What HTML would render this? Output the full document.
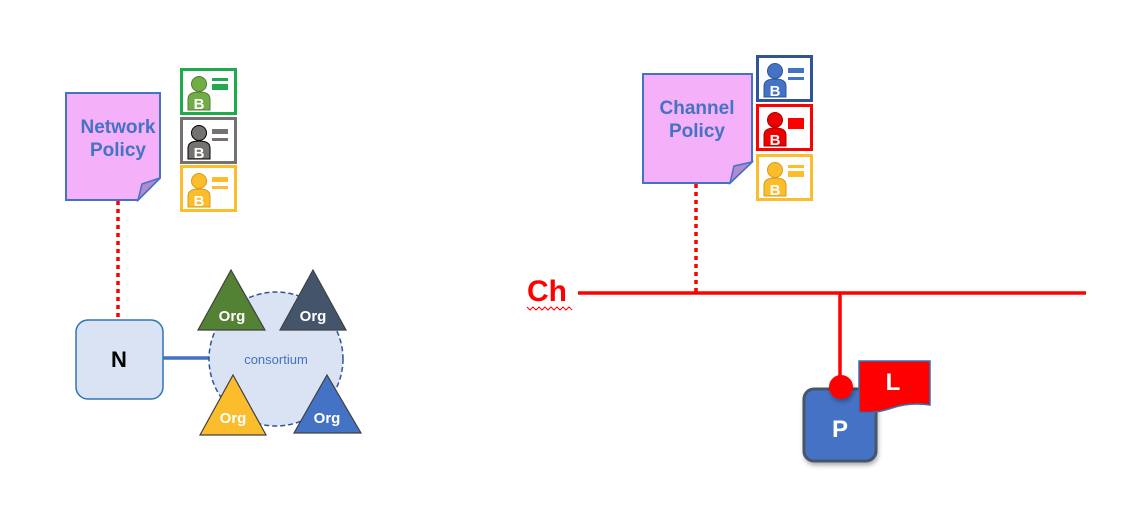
<!DOCTYPE html>
<html><head><meta charset="utf-8"><style>
html,body{margin:0;padding:0;background:#fff;}
svg{display:block;}
text{font-family:"Liberation Sans",Arial,sans-serif;}
</style></head><body>
<svg width="1140" height="512" viewBox="0 0 1140 512" xmlns="http://www.w3.org/2000/svg">
<defs>
<filter id="sh" x="-20%" y="-20%" width="150%" height="150%"><feDropShadow dx="1" dy="3" stdDeviation="2" flood-color="#000" flood-opacity="0.3"/></filter>
</defs>

<line x1="118" y1="201" x2="118" y2="318" stroke="#f00" stroke-width="3.5" stroke-dasharray="4,4"/>
<line x1="696" y1="184" x2="696" y2="293" stroke="#f00" stroke-width="3.5" stroke-dasharray="4,4"/>

<path d="M66,93 H160 V178 L138,200 H66 Z" fill="#f4b0f8" stroke="#4472c4" stroke-width="2"/>
<path d="M138,200 L142,184 L160,178 Z" fill="#b28ad0" stroke="#4472c4" stroke-width="1.5"/>
<text x="118" y="133" font-size="19" font-weight="bold" fill="#4472c4" text-anchor="middle">Network</text>
<text x="118" y="156" font-size="19" font-weight="bold" fill="#4472c4" text-anchor="middle">Policy</text>

<path d="M643,74 H752 V162 L730,183 H643 Z" fill="#f4b0f8" stroke="#4472c4" stroke-width="2"/>
<path d="M730,183 L734,166 L752,162 Z" fill="#b28ad0" stroke="#4472c4" stroke-width="1.5"/>
<text x="697" y="114" font-size="19" font-weight="bold" fill="#4472c4" text-anchor="middle">Channel</text>
<text x="697" y="137" font-size="19" font-weight="bold" fill="#4472c4" text-anchor="middle">Policy</text>

<g transform="translate(180,68)">
 <rect x="1.5" y="1.5" width="54" height="44" fill="#fff" stroke="#1fab4d" stroke-width="3"/>
 <circle cx="19" cy="16" r="7.5" fill="#70ad47" stroke="#507e32"/>
 <path d="M8,42 V31 Q8,24 19,24 Q30,24 30,31 V42 Z" fill="#70ad47" stroke="#507e32"/>
 <text x="19" y="41" font-size="15" font-weight="bold" fill="#fff" text-anchor="middle">B</text>
 <rect x="32" y="10" width="16" height="3" fill="#1fab4d"/><rect x="32" y="16" width="16" height="6" fill="#1fab4d"/>
</g>
<g transform="translate(180,117)">
 <rect x="1.5" y="1.5" width="54" height="44" fill="#fff" stroke="#767171" stroke-width="3"/>
 <circle cx="19" cy="16" r="7.5" fill="#767171" stroke="#000"/>
 <path d="M8,42 V31 Q8,24 19,24 Q30,24 30,31 V42 Z" fill="#767171" stroke="#000"/>
 <text x="19" y="41" font-size="15" font-weight="bold" fill="#fff" text-anchor="middle">B</text>
 <rect x="32" y="12" width="16" height="5" fill="#767171"/><rect x="32" y="21" width="16" height="3" fill="#767171"/>
</g>
<g transform="translate(180,165)">
 <rect x="1.5" y="1.5" width="54" height="44" fill="#fff" stroke="#fbbd2c" stroke-width="3"/>
 <circle cx="19" cy="16" r="7.5" fill="#fbbd2c" stroke="#d69a1a"/>
 <path d="M8,42 V31 Q8,24 19,24 Q30,24 30,31 V42 Z" fill="#fbbd2c" stroke="#d69a1a"/>
 <text x="19" y="41" font-size="15" font-weight="bold" fill="#fff" text-anchor="middle">B</text>
 <rect x="32" y="12" width="16" height="5" fill="#fbbd2c"/><rect x="32" y="21" width="16" height="3" fill="#fbbd2c"/>
</g>

<g transform="translate(756,55)">
 <rect x="1.5" y="1.5" width="54" height="44" fill="#fff" stroke="#2f5597" stroke-width="3"/>
 <circle cx="19" cy="16" r="7.5" fill="#4472c4" stroke="#2f5597"/>
 <path d="M8,42 V31 Q8,24 19,24 Q30,24 30,31 V42 Z" fill="#4472c4" stroke="#2f5597"/>
 <text x="19" y="41" font-size="15" font-weight="bold" fill="#fff" text-anchor="middle">B</text>
 <rect x="32" y="13" width="16" height="5" fill="#4472c4"/><rect x="32" y="22" width="16" height="3" fill="#4472c4"/>
</g>
<g transform="translate(756,104)">
 <rect x="1.5" y="1.5" width="54" height="44" fill="#fff" stroke="#f00" stroke-width="3"/>
 <circle cx="19" cy="16" r="7.5" fill="#e00" stroke="#a00"/>
 <path d="M8,42 V31 Q8,24 19,24 Q30,24 30,31 V42 Z" fill="#e00" stroke="#a00"/>
 <text x="19" y="41" font-size="15" font-weight="bold" fill="#fff" text-anchor="middle">B</text>
 <rect x="32" y="14" width="16" height="11" fill="#f00"/>
</g>
<g transform="translate(756,154)">
 <rect x="1.5" y="1.5" width="54" height="44" fill="#fff" stroke="#fbbd2c" stroke-width="3"/>
 <circle cx="19" cy="16" r="7.5" fill="#fbbd2c" stroke="#d69a1a"/>
 <path d="M8,42 V31 Q8,24 19,24 Q30,24 30,31 V42 Z" fill="#fbbd2c" stroke="#d69a1a"/>
 <text x="19" y="41" font-size="15" font-weight="bold" fill="#fff" text-anchor="middle">B</text>
 <rect x="32" y="11" width="16" height="3" fill="#fbbd2c"/><rect x="32" y="17" width="16" height="6" fill="#fbbd2c"/>
</g>

<line x1="163" y1="358" x2="209" y2="358" stroke="#4472c4" stroke-width="3.5"/>
<rect x="76" y="320" width="87" height="79" rx="12" fill="#dae3f3" stroke="#2e75b6" stroke-width="1.5"/>
<text x="119" y="367" font-size="22" font-weight="bold" fill="#000" text-anchor="middle">N</text>
<circle cx="276" cy="359" r="67" fill="#dae3f3" stroke="#2f5597" stroke-width="1.5" stroke-dasharray="5,3"/>
<text x="276" y="364" font-size="13" fill="#4472c4" text-anchor="middle">consortium</text>

<path d="M231,270 L265,330 L198,330 Z" fill="#548235" stroke="#404040" stroke-width="1.2"/>
<text x="232" y="321" font-size="15" font-weight="bold" fill="#fff" text-anchor="middle">Org</text>
<path d="M313,270 L346,330 L280,330 Z" fill="#44546a" stroke="#404040" stroke-width="1.2"/>
<text x="313" y="321" font-size="15" font-weight="bold" fill="#fff" text-anchor="middle">Org</text>
<path d="M233,375 L266,435 L200,435 Z" fill="#fbbd2c" stroke="#404040" stroke-width="1.2"/>
<text x="233" y="423" font-size="15" font-weight="bold" fill="#fff" text-anchor="middle">Org</text>
<path d="M327,375 L361,433 L294,433 Z" fill="#4472c4" stroke="#404040" stroke-width="1.2"/>
<text x="327" y="423" font-size="15" font-weight="bold" fill="#fff" text-anchor="middle">Org</text>

<text x="527" y="301" font-size="30" font-weight="bold" fill="#f00">Ch</text>
<path d="M527,307 l3,3 l3,-3 l3,3 l3,-3 l3,3 l3,-3 l3,3 l3,-3 l3,3 l3,-3 l3,3 l3,-3 l3,3 l3,-3 l3,3" fill="none" stroke="#f00" stroke-width="1"/>
<line x1="578" y1="293" x2="1086" y2="293" stroke="#f00" stroke-width="3.5"/>
<line x1="840" y1="293" x2="840" y2="385" stroke="#f00" stroke-width="3.5"/>

<rect x="804" y="389" width="72" height="72" rx="10" fill="#4472c4" stroke="#44546a" stroke-width="3" filter="url(#sh)"/>
<text x="840" y="437" font-size="24" font-weight="bold" fill="#fff" text-anchor="middle">P</text>
<circle cx="841" cy="387" r="12" fill="#f00" filter="url(#sh)"/>
<path d="M859,361 H930 V405 Q910,402 892,408 Q875,414 859,412 Z" fill="#f00" stroke="#2e75b6" stroke-width="1.5"/>
<text x="893" y="390" font-size="24" font-weight="bold" fill="#fff" text-anchor="middle">L</text>
</svg>
</body></html>
